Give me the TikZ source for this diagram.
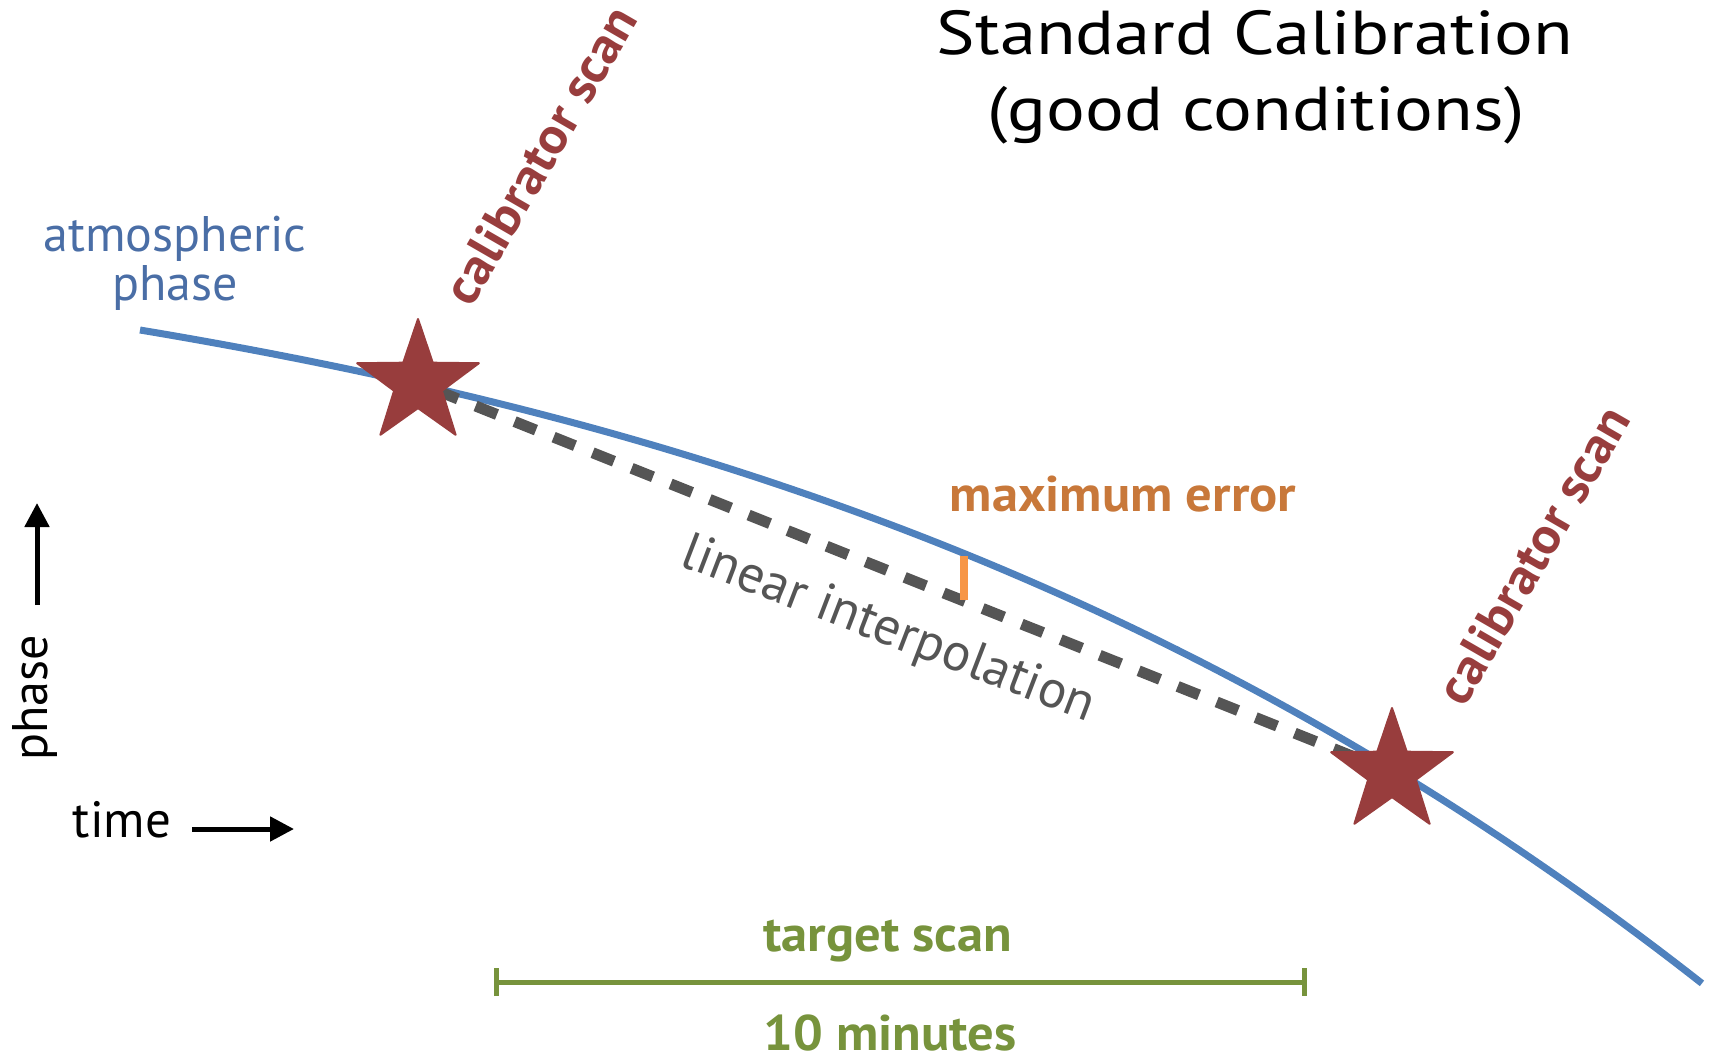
\documentclass[tikz,border=0pt]{standalone}
\usepackage{fontspec}
\setmainfont{PT Sans}
\newfontfamily\boldwide{PT Sans}[FakeStretch=1.05]
\newfontfamily\titlefont{PT Sans}[FakeStretch=1.17]
\usetikzlibrary{shapes.geometric,arrows.meta}
\definecolor{curveblue}{HTML}{4F81BD}
\definecolor{bluetext}{HTML}{4A6EA6}
\definecolor{starred}{HTML}{983D3D}
\definecolor{dashgray}{HTML}{555555}
\definecolor{ticko}{HTML}{F79646}
\definecolor{texto}{HTML}{C8783A}
\definecolor{olive}{HTML}{77933C}
\tikzset{
  lbl/.style={inner sep=0pt, font=\fontsize{50}{50}\selectfont},
  blbl/.style={inner sep=0pt, font=\boldwide\fontsize{50}{50}\selectfont\bfseries},
  ttl/.style={inner sep=0pt, anchor=base, font=\titlefont\fontsize{62}{62}\selectfont},
  callbl/.style={inner sep=0pt, rotate=60, text=starred, font=\boldwide\fontsize{51}{51}\selectfont\bfseries},
  calstar/.style={star, star points=5, star point ratio=2.55, minimum size=128pt, inner sep=0pt, fill=starred, draw=starred, line width=2pt, line join=round},
  axisarrow/.style={line width=5pt, -{Triangle[length=24pt,width=24pt]}},
}
\begin{document}
\begin{tikzpicture}[x=1pt,y=-1pt]
\useasboundingbox (0,0) rectangle (1711,1055);
% title
\node[ttl] (t1) at (1255,54) {Standard Calibration};
\node[ttl] (t2) at (1256,130) {(good conditions)};
% atmospheric phase
\node[lbl, anchor=base, text=bluetext] (a1) at (175,251) {atmospheric};
\node[lbl, anchor=base, text=bluetext] (a2) at (175,300) {phase};
% curve
\draw[curveblue, line width=7pt] plot[domain=0:1, samples=120, variable=\u]
  ({140+1564*\u}, {330+655*(0.40*\u+0.325*\u*\u+0.275*\u*\u*\u)});
% stars (positions)
\coordinate (s1) at (418,383);
\coordinate (s2) at (1392,772);
% dashed interpolation
\draw[dashgray, line width=11pt, dash pattern=on 23pt off 19pt, dash phase=-20pt] (s1) -- (s2);
\node[calstar] (st1) at (s1) {};
\node[calstar] (st2) at (s2) {};
% max error
\coordinate (e1) at (964,556);
\coordinate (e2) at (964,600);
\draw[ticko, line width=8pt] (e1) -- (e2);
\node[blbl, anchor=base, text=texto] (me) at (1123,511) {maximum error};
% linear interpolation
\node[lbl, rotate=-21, text=dashgray, font=\fontsize{53}{53}\selectfont] (li) at (888,631) {linear interpolation};
% calibrator scans
\node[callbl] (c1) at (540,155) {calibrator scan};
\node[callbl] (c2) at (1533,555) {calibrator scan};
% axes
\coordinate (pa1) at (37,605);
\coordinate (pa2) at (37,503);
\draw[axisarrow] (pa1) -- (pa2);
\node[lbl, rotate=90] (ph) at (35,698) {phase};
\node[lbl, anchor=base, font=\fontsize{51}{51}\selectfont] (tm) at (122,837) {time};
\coordinate (ta1) at (192,829);
\coordinate (ta2) at (294,829);
\draw[axisarrow] (ta1) -- (ta2);
% target scan
\coordinate (g1) at (494,982);
\coordinate (g2) at (1307,982);
\draw[olive, line width=5pt, {Bar[width=28pt,line width=5pt]}-{Bar[width=28pt,line width=5pt]}] (g1) -- (g2);
\node[blbl, anchor=base, text=olive] (ts) at (888,951) {target scan};
\node[blbl, anchor=base, text=olive] (tmn) at (890,1050) {10 minutes};
\end{tikzpicture}
\end{document}
